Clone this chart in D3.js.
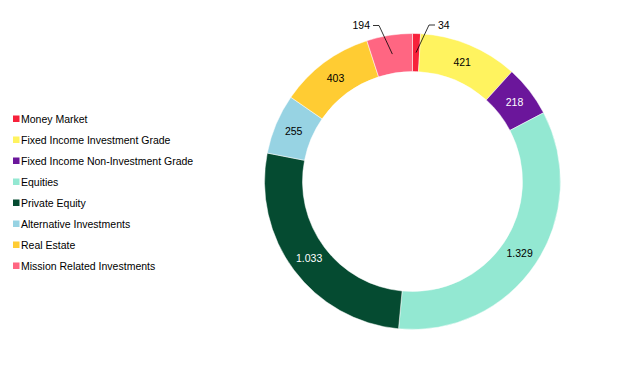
<!DOCTYPE html>
<html>
<head>
<meta charset="utf-8">
<script src="https://cdn.jsdelivr.net/npm/d3@7"></script>
<style>
  body { margin: 0; background: #fff; }
  svg text { font-family: "Liberation Sans", Arial, sans-serif; }
</style>
</head>
<body>
<div id="chart"></div>
<script>
// data
var categories = ["Money Market", "Fixed Income Investment Grade", "Fixed Income Non-Investment Grade",
  "Equities", "Private Equity", "Alternative Investments", "Real Estate", "Mission Related Investments"];
var values = [34, 421, 218, 1329, 1033, 255, 403, 194];
var labels = ["34", "421", "218", "1.329", "1.033", "255", "403", "194"];
var colors = ["#f7213b", "#fff35f", "#6b169b", "#93e8d2", "#054b31", "#97d3e3", "#ffcc33", "#ff6682"];
var labelColors = ["#000", "#000", "#fff", "#000", "#fff", "#000", "#000", "#000"];
// slices whose labels sit outside with leader lines
var outside = {0: {x: 435, y: 25, anchor: "start"}, 7: {x: 373, y: 25.5, anchor: "end"}};

var width = 628, height = 366;
var cx = 412.5, cy = 181.5, outerR = 148, innerR = 110;

var svg = d3.select("#chart").append("svg")
    .attr("width", width)
    .attr("height", height);

var pie = d3.pie().sort(null).value(function(d) { return d; });
var arc = d3.arc().innerRadius(innerR).outerRadius(outerR);
var labelArc = d3.arc().innerRadius(129).outerRadius(129);

var g = svg.append("g").attr("transform", "translate(" + cx + "," + cy + ")");

var arcs = pie(values);

g.selectAll(".slice")
    .data(arcs)
  .enter().append("path")
    .attr("class", "slice")
    .attr("d", arc)
    .attr("fill", function(d, i) { return colors[i]; })
    .attr("stroke", "#fff")
    .attr("stroke-width", 0.5);

// inside labels
g.selectAll(".lbl")
    .data(arcs.filter(function(d, i) { return !outside[i]; }))
  .enter().append("text")
    .attr("class", "lbl")
    .attr("transform", function(d) { return "translate(" + labelArc.centroid(d) + ")"; })
    .attr("dy", ".35em")
    .style("text-anchor", "middle")
    .style("font-size", "10.5px")
    .attr("fill", function(d) { return labelColors[d.index]; })
    .text(function(d) { return labels[d.index]; });

// outside labels with leader lines
arcs.forEach(function(d, i) {
  var o = outside[i];
  if (!o) return;
  var c = labelArc.centroid(d);
  var ex = o.x - cx, ey = o.y - cy;
  var bend = o.anchor === "start" ? ex - 6 : ex + 6;
  g.append("polyline")
      .attr("points", [c, [bend, ey], [ex, ey]].map(function(p) { return p.join(","); }).join(" "))
      .attr("fill", "none")
      .attr("stroke", "#000")
      .attr("stroke-width", 0.8);
  g.append("text")
      .attr("x", o.anchor === "start" ? ex + 3 : ex - 3)
      .attr("y", ey)
      .attr("dy", ".35em")
      .style("text-anchor", o.anchor)
      .style("font-size", "10.5px")
      .text(labels[i]);
});

// legend
var legend = svg.selectAll(".legend")
    .data(categories)
  .enter().append("g")
    .attr("class", "legend")
    .attr("transform", function(d, i) { return "translate(13," + (119 + i * 21) + ")"; });

legend.append("rect")
    .attr("x", 0)
    .attr("y", -3.5)
    .attr("width", 6.5)
    .attr("height", 6.5)
    .style("fill", function(d, i) { return colors[i]; });

legend.append("text")
    .attr("x", 8)
    .attr("y", 0)
    .attr("dy", ".35em")
    .style("font-size", "10.5px")
    .text(function(d) { return d; });
</script>
</body>
</html>
